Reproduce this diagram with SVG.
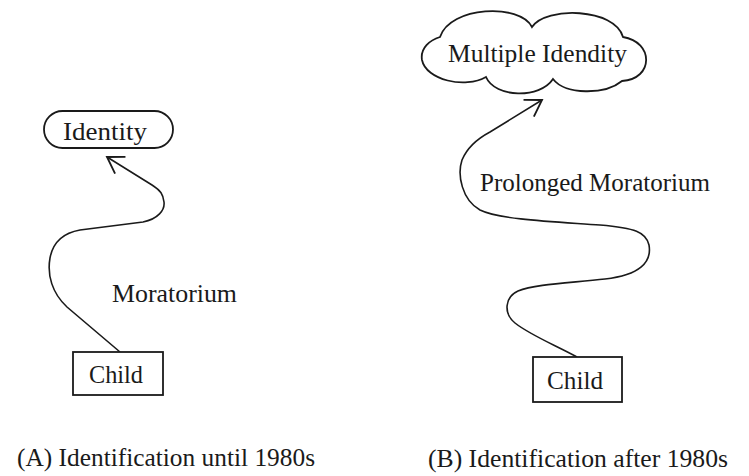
<svg xmlns="http://www.w3.org/2000/svg" width="749" height="476" viewBox="0 0 749 476">
<style>
text{font-family:"Liberation Serif","Times New Roman",serif;fill:#1a1a1a;}
.lbl{font-size:25px;}
.cap{font-size:26px;}
.box{fill:#fff;stroke:#1a1a1a;stroke-width:1.8;}
.conn{fill:none;stroke:#1a1a1a;stroke-width:1.6;}
</style>
<defs>
<marker id="arr" markerUnits="userSpaceOnUse" markerWidth="20" markerHeight="22" viewBox="-1 -1 16 19" refX="13.5" refY="8.5" orient="auto">
<path d="M0,0 L13.5,8.5 L0,17" fill="none" stroke="#1a1a1a" stroke-width="1.6"/>
</marker>
</defs>
<rect width="749" height="476" fill="#fff"/>
<g id="connectors">
<path class="conn" marker-end="url(#arr)" d="M120,352 L67,307 C52,293 47,275 50,258 C53,242 63,233 80,230 L143,222 C158,219 165,210 164,202 C163,194 161,191 152,185 L107,157"/>
<path class="conn" marker-end="url(#arr)" d="M577,357 C555,345 530,335 515,323 C503,313 505,297 518,291 C535,284 570,283 605,279 C640,275 652,262 649,245 C646,232 635,228 600,225 C560,222 500,220 480,210 C462,200 457,175 462,160 C467,148 475,140 490,132 L542,100"/>
</g>
<g id="identity">
<rect class="box" x="44" y="111" width="129" height="37" rx="18.5"/>
<text class="lbl" x="105" y="140" text-anchor="middle" font-size="27" textLength="84" lengthAdjust="spacingAndGlyphs">Identity</text>
</g>
<g id="childA">
<rect class="box" x="73" y="352" width="90" height="43"/>
<text class="lbl" x="116" y="383" text-anchor="middle" textLength="54" lengthAdjust="spacingAndGlyphs">Child</text>
</g>
<g id="moratorium">
<text class="lbl" x="112" y="302" font-size="26" textLength="125" lengthAdjust="spacingAndGlyphs">Moratorium</text>
</g>
<g id="multiple">
<path class="box" d="M440,37 C450,6 520,3 532,27 C546,6 615,8 623,37 C654,42 654,79 622,81 C605,95 565,95 553,79 C540,99 495,98 486,77 C465,89 426,80 422,60 C420,48 430,40 440,37 Z"/>
<text class="lbl" x="448" y="62" textLength="179" lengthAdjust="spacingAndGlyphs">Multiple Idendity</text>
</g>
<g id="prolonged">
<text class="lbl" x="480" y="191" textLength="230" lengthAdjust="spacingAndGlyphs">Prolonged Moratorium</text>
</g>
<g id="childB">
<rect class="box" x="533" y="357" width="89" height="45"/>
<text class="lbl" x="575" y="389" text-anchor="middle" textLength="56" lengthAdjust="spacingAndGlyphs">Child</text>
</g>
<g id="captionA">
<text class="cap" x="17" y="466" textLength="298" lengthAdjust="spacingAndGlyphs">(A) Identification until 1980s</text>
</g>
<g id="captionB">
<text class="cap" x="428" y="467" textLength="300" lengthAdjust="spacingAndGlyphs">(B) Identification after 1980s</text>
</g>
</svg>
